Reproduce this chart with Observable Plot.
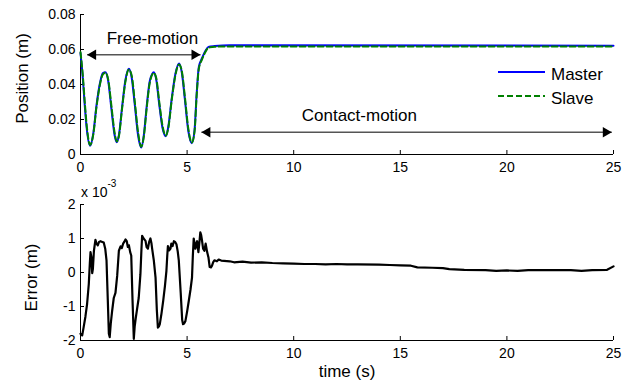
<!DOCTYPE html>
<html><head><meta charset="utf-8">
<script src="https://cdn.jsdelivr.net/npm/d3@7"></script>
<script src="https://cdn.jsdelivr.net/npm/@observablehq/plot@0.6"></script>
<style>
body{margin:0;background:#fff;}
#wrap{position:relative;width:636px;height:381px;font-family:"Liberation Sans",Arial,sans-serif;color:#000;}
#wrap > svg, #wrap > div{position:absolute;left:0;}
</style></head><body><div id="wrap"></div>
<script>
// ---- data ----
const time   = [0,0.1,0.2,0.3,0.45,0.6,0.75,0.9,1.05,1.17,1.3,1.45,1.6,1.7,1.8,1.95,2.1,2.27,2.4,2.55,2.7,2.85,2.97,3.1,3.25,3.44,3.55,3.7,3.85,4.0,4.12,4.28,4.45,4.62,4.75,4.9,5.05,5.22,5.35,5.45,5.55,5.7,5.85,6.0,6.3,7,25];
const master = [0.058,0.045,0.028,0.014,0.005,0.012,0.028,0.040,0.0465,0.047,0.042,0.026,0.011,0.007,0.011,0.027,0.042,0.049,0.044,0.028,0.011,0.004,0.011,0.027,0.042,0.047,0.043,0.028,0.015,0.0105,0.016,0.032,0.046,0.052,0.047,0.031,0.014,0.0065,0.014,0.035,0.050,0.055,0.059,0.0615,0.062,0.0625,0.0622];
const slave  = [0.0585,0.0465,0.030,0.0155,0.0055,0.0115,0.0272,0.0392,0.0458,0.0468,0.0428,0.0278,0.0125,0.0075,0.0104,0.0262,0.0412,0.0485,0.0452,0.0298,0.0128,0.0045,0.0102,0.026,0.041,0.0466,0.0438,0.0295,0.0162,0.0108,0.0152,0.0312,0.0452,0.0515,0.0478,0.0325,0.0153,0.0068,0.0132,0.034,0.049,0.0543,0.0584,0.061,0.0616,0.0617,0.0617];
const seriesNames = ["Master","Slave"];

const errTime = [0,0.08,0.15,0.23,0.31,0.39,0.44,0.47,0.51,0.55,0.58,0.63,0.7,0.75,0.81,0.87,0.94,1.02,1.09,1.16,1.22,1.28,1.33,1.37,1.42,1.48,1.56,1.64,1.72,1.8,1.88,1.94,2.0,2.05,2.11,2.17,2.22,2.27,2.33,2.38,2.44,2.5,2.54,2.59,2.66,2.73,2.81,2.86,2.89,2.96,3.05,3.1,3.16,3.22,3.28,3.33,3.36,3.44,3.52,3.58,3.63,3.68,3.72,3.8,3.88,3.96,4.03,4.07,4.1,4.16,4.22,4.26,4.32,4.38,4.44,4.5,4.56,4.61,4.7,4.77,4.81,4.86,4.92,5.0,5.08,5.16,5.23,5.27,5.31,5.35,5.39,5.43,5.47,5.5,5.53,5.58,5.62,5.66,5.7,5.75,5.81,5.87,5.94,6.0,6.06,6.12,6.17,6.22,6.28,6.4,6.48,6.6,7.0,7.2,7.6,8.0,8.5,9.0,9.5,10.0,10.5,11.0,11.5,12,12.5,13,14,14.5,15,15.5,15.8,16.5,17.0,17.3,18,19,19.5,20,20.5,21,22,23,23.5,24,24.7,25];
const errVal  = [-1.8,-1.85,-1.6,-1.3,-0.92,-0.33,0.3,0.6,0.45,-0.02,0.1,0.64,0.96,0.85,0.8,0.9,0.92,0.9,0.88,0.7,0.36,-0.8,-1.8,-1.9,-1.5,-1.15,-0.75,-0.6,-0.1,0.64,0.77,0.72,0.85,0.9,0.97,0.92,0.75,0.8,0.6,0.5,-0.8,-1.95,-1.6,-1.35,-1.05,-0.75,-0.05,0.7,1.08,1.0,0.93,0.75,0.7,0.9,1.0,0.85,0.7,0.35,-0.15,-1.1,-1.62,-1.58,-1.52,-1.2,-0.83,-0.4,0.05,0.5,0.78,0.65,0.7,0.85,0.78,0.92,0.9,0.83,0.62,0.36,-0.6,-1.4,-1.52,-1.5,-1.43,-1.15,-0.83,-0.5,-0.15,0.5,1.0,0.85,0.7,0.85,0.92,0.75,0.6,0.9,1.18,1.1,0.94,0.7,0.64,0.85,0.6,0.45,0.16,0.15,0.2,0.3,0.36,0.33,0.38,0.35,0.33,0.3,0.32,0.29,0.3,0.28,0.27,0.26,0.25,0.25,0.24,0.25,0.24,0.24,0.23,0.22,0.21,0.2,0.15,0.14,0.13,0.1,0.08,0.07,0.05,0.06,0.05,0.07,0.07,0.07,0.05,0.07,0.08,0.18];

const xTicks   = [0,5,10,15,20,25];
const posTicks = [0,0.02,0.04,0.06,0.08];
const errTicks = [-2,-1,0,1,2];

const arrowLabels = ["Free-motion","Contact-motion"];
const arrowStart  = [0.31,5.67];
const arrowEnd    = [5.63,24.92];
const arrowLevel  = [0.057,0.0127];
const labelTime   = [3.375,13.08];
const labelLevel  = [0.0664,0.0221];

// ---- build ----
const FONT = '"Liberation Sans",Arial,sans-serif';
const pos = time.map((t,i)=>({t, master:master[i], slave:slave[i]}));
const err = errTime.map((t,i)=>({t, e:errVal[i]}));
const arrows = arrowLabels.map((label,i)=>({label, t1:arrowStart[i], t2:arrowEnd[i], y:arrowLevel[i], tx:labelTime[i], ty:labelLevel[i]}));
const wrap = document.getElementById("wrap");
const plotStyle = {fontFamily:FONT, fontSize:"14px", color:"#000", background:"transparent", overflow:"visible"};

const topPlot = Plot.plot({
  width:636, height:180, marginLeft:80, marginRight:23, marginTop:14, marginBottom:26,
  x:{domain:[0,25]}, y:{domain:[0,0.08]}, style:plotStyle,
  marks:[
    Plot.axisX(xTicks,{tickSize:-4, tickPadding:12, label:null, tickFormat:d=>String(d)}),
    Plot.axisY(posTicks,{tickSize:-4, tickPadding:9, label:null, tickFormat:d=>d===0?"0":d.toFixed(2)}),
    Plot.ruleX([0],{stroke:"#000"}), Plot.ruleY([0],{stroke:"#000"}),
    Plot.line(pos,{x:"t", y:"master", stroke:"#0000ff", strokeWidth:2, curve:"monotone-x"}),
    Plot.line(pos,{x:"t", y:"slave", stroke:"#008000", strokeWidth:2, strokeDasharray:"6,3", curve:"monotone-x"}),
    Plot.link(arrows,{x1:"t1", x2:"t2", y1:"y", y2:"y", stroke:"#555", strokeWidth:1.5}),
    Plot.dot(arrows,{x:"t1", y:"y", symbol:"triangle", r:3.86, fill:"#000", stroke:"none", rotate:-90, dx:6}),
    Plot.dot(arrows,{x:"t2", y:"y", symbol:"triangle", r:3.86, fill:"#000", stroke:"none", rotate:90, dx:-6}),
    Plot.text(arrows,{x:"tx", y:"ty", text:"label", fontSize:17}),
    Plot.text(["Position (m)"],{frameAnchor:"left", textAnchor:"middle", lineAnchor:"middle", rotate:-90, dx:-58, dy:-6, fontSize:17})
  ]
});
topPlot.style.top = "0px";
wrap.appendChild(topPlot);

const bottomPlot = Plot.plot({
  width:636, height:201, marginLeft:80, marginRight:23, marginTop:24, marginBottom:41,
  x:{domain:[0,25]}, y:{domain:[-2,2]}, style:plotStyle,
  marks:[
    Plot.axisX(xTicks,{tickSize:-4, tickPadding:12, label:null, tickFormat:d=>String(d)}),
    Plot.axisY(errTicks,{tickSize:-4, tickPadding:9, label:null, tickFormat:d=>String(d)}),
    Plot.ruleX([0],{stroke:"#000"}), Plot.ruleY([-2],{stroke:"#000"}),
    Plot.line(err,{x:"t", y:"e", stroke:"#000", strokeWidth:2.2}),
    Plot.text(["time (s)"],{frameAnchor:"bottom", textAnchor:"middle", lineAnchor:"middle", dy:31, fontSize:17}),
    Plot.text(["Error (m)"],{frameAnchor:"left", textAnchor:"middle", lineAnchor:"middle", rotate:-90, dx:-48.5, dy:5, fontSize:17})
  ]
});
bottomPlot.style.top = "180px";
wrap.appendChild(bottomPlot);

// exponent note
const ex = document.createElement("div");
ex.style.cssText = "left:81px;top:185px;font-size:14px;line-height:14px;white-space:nowrap;";
ex.innerHTML = 'x 10<span style="font-size:10px;position:relative;top:-10px;">-3</span>';
wrap.appendChild(ex);

// legend
const leg = d3.create("svg").attr("width",140).attr("height",50)
  .style("left","490px").style("top","58px").style("position","absolute");
const legStyles = [{stroke:"#0000ff", dash:null},{stroke:"#008000", dash:"6,3"}];
seriesNames.forEach((name,i)=>{
  const y = 14 + i*24;
  leg.append("line").attr("x1",8).attr("x2",55).attr("y1",y).attr("y2",y)
    .attr("stroke",legStyles[i].stroke).attr("stroke-width",2).attr("stroke-dasharray",legStyles[i].dash);
  leg.append("text").attr("x",61).attr("y",y+8).attr("font-family",FONT).attr("font-size",17).text(name);
});
wrap.appendChild(leg.node());
</script></body></html>
